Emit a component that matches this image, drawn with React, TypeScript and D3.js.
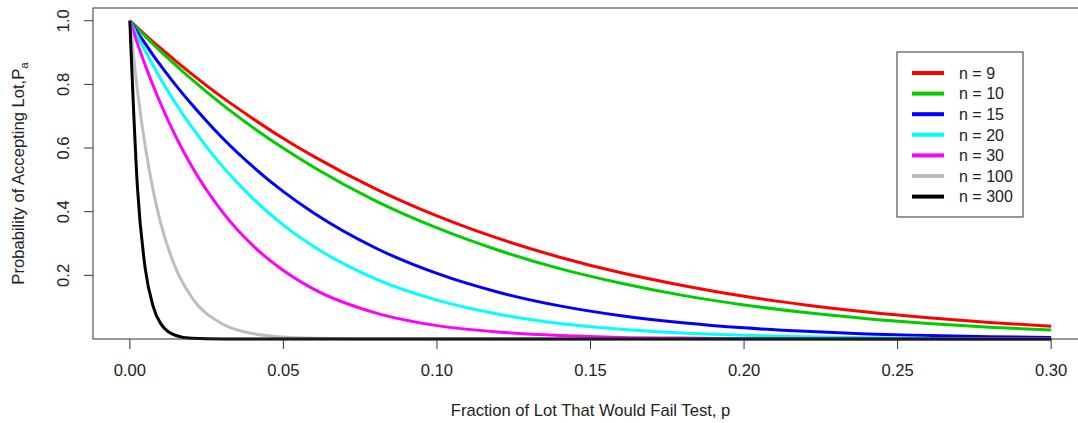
import { useEffect, useRef } from "react";
import * as d3 from "d3";

const WIDTH = 1078;
const HEIGHT = 423;
const MARGIN = { top: 8, right: -10, bottom: 84, left: 93 };

// fraction failing, p
const pValues = [0, 0.0025, 0.005, 0.0075, 0.01, 0.015, 0.02, 0.03, 0.04, 0.05, 0.06, 0.08, 0.1, 0.12, 0.14, 0.16, 0.18, 0.2, 0.22, 0.24, 0.26, 0.28, 0.3];

// probability of accepting lot
const pa9 = [1, 0.978, 0.956, 0.934, 0.914, 0.873, 0.834, 0.76, 0.693, 0.63, 0.573, 0.472, 0.387, 0.316, 0.257, 0.208, 0.168, 0.134, 0.107, 0.085, 0.067, 0.052, 0.04];
const pa10 = [1, 0.975, 0.951, 0.927, 0.904, 0.86, 0.817, 0.737, 0.665, 0.599, 0.539, 0.434, 0.349, 0.279, 0.221, 0.175, 0.137, 0.107, 0.083, 0.064, 0.049, 0.037, 0.028];
const pa15 = [1, 0.963, 0.928, 0.893, 0.86, 0.797, 0.739, 0.633, 0.542, 0.463, 0.395, 0.286, 0.206, 0.147, 0.104, 0.073, 0.051, 0.035, 0.024, 0.016, 0.011, 0.007, 0.005];
const pa20 = [1, 0.951, 0.905, 0.86, 0.818, 0.739, 0.668, 0.544, 0.442, 0.358, 0.29, 0.189, 0.122, 0.078, 0.049, 0.031, 0.019, 0.012, 0.007, 0.004, 0.002, 0.001, 0.001];
const pa30 = [1, 0.928, 0.86, 0.798, 0.74, 0.635, 0.545, 0.401, 0.294, 0.215, 0.156, 0.082, 0.042, 0.022, 0.011, 0.005, 0.003, 0.001, 0.001, 0, 0, 0, 0];
const pa100 = [1, 0.779, 0.606, 0.471, 0.366, 0.221, 0.133, 0.048, 0.017, 0.006, 0.002, 0, 0, 0, 0, 0, 0, 0, 0, 0, 0, 0, 0];
const pa300 = [1, 0.472, 0.222, 0.105, 0.049, 0.011, 0.002, 0, 0, 0, 0, 0, 0, 0, 0, 0, 0, 0, 0, 0, 0, 0, 0];

const seriesNames = ["n = 9", "n = 10", "n = 15", "n = 20", "n = 30", "n = 100", "n = 300"];
const seriesValues = [pa9, pa10, pa15, pa20, pa30, pa100, pa300];
const seriesColors = ["#ff0000", "#00cd00", "#0000ff", "#00ffff", "#ff00ff", "#bebebe", "#000000"];

const xTicks = [0, 0.05, 0.1, 0.15, 0.2, 0.25, 0.3];
const yTicks = [0.2, 0.4, 0.6, 0.8, 1.0];

const FONT = "Liberation Sans, Arial, sans-serif";

const App = () => {
  const axesRef = useRef<SVGGElement | null>(null);
  const boundsWidth = WIDTH - MARGIN.left - MARGIN.right;
  const boundsHeight = HEIGHT - MARGIN.top - MARGIN.bottom;

  const xScale = d3.scaleLinear().domain([-0.012, 0.312]).range([0, boundsWidth]);
  const yScale = d3.scaleLinear().domain([0, 1.04]).range([boundsHeight, 0]);

  useEffect(() => {
    document.body.style.margin = "0";
    const g = d3.select(axesRef.current);
    g.selectAll("*").remove();

    // x axis ticks + labels
    const xg = g.append("g").attr("transform", `translate(0,${boundsHeight})`);
    xg.selectAll("line")
      .data(xTicks)
      .enter()
      .append("line")
      .attr("x1", (d) => xScale(d))
      .attr("x2", (d) => xScale(d))
      .attr("y1", 0)
      .attr("y2", 10)
      .style("stroke", "#333")
      .style("stroke-width", 1);
    xg.selectAll("text")
      .data(xTicks)
      .enter()
      .append("text")
      .attr("x", (d) => xScale(d))
      .attr("y", 37)
      .attr("text-anchor", "middle")
      .style("font-family", FONT)
      .style("font-size", "16.6px")
      .style("fill", "#222")
      .text((d) => d3.format(".2f")(d));

    // y axis ticks + labels (rotated like base R)
    const yg = g.append("g");
    yg.selectAll("line")
      .data(yTicks)
      .enter()
      .append("line")
      .attr("x1", -9)
      .attr("x2", 0)
      .attr("y1", (d) => yScale(d))
      .attr("y2", (d) => yScale(d))
      .style("stroke", "#333")
      .style("stroke-width", 1);
    yg.selectAll("text")
      .data(yTicks)
      .enter()
      .append("text")
      .attr("transform", (d) => `translate(-30,${yScale(d)}) rotate(-90)`)
      .attr("dy", "0.36em")
      .attr("text-anchor", "middle")
      .style("font-family", FONT)
      .style("font-size", "16.6px")
      .style("fill", "#222")
      .text((d) => d3.format(".1f")(d));
  }, [boundsHeight]);

  const lineBuilder = d3
    .line<number>()
    .x((_, i) => xScale(pValues[i]))
    .y((d) => yScale(d))
    .curve(d3.curveMonotoneX);

  return (
    <svg width={WIDTH} height={HEIGHT} style={{ display: "block", background: "#fff" }}>
      <g transform={`translate(${MARGIN.left},${MARGIN.top})`}>
        {seriesValues.map((vals, i) => (
          <path
            key={seriesNames[i]}
            d={lineBuilder(vals) || ""}
            fill="none"
            stroke={seriesColors[i]}
            strokeWidth={3}
            strokeLinejoin="round"
          />
        ))}
        <rect
          x={0}
          y={0}
          width={boundsWidth}
          height={boundsHeight}
          fill="none"
          stroke="#333"
          strokeWidth={1}
        />
        <g ref={axesRef} />
      </g>

      {/* axis titles */}
      <text
        x={MARGIN.left + xScale(0.15)}
        y={416}
        textAnchor="middle"
        fontFamily={FONT}
        fontSize={16.6}
        fill="#222"
      >
        Fraction of Lot That Would Fail Test, p
      </text>
      <text
        transform={`translate(24,${MARGIN.top + boundsHeight / 2}) rotate(-90)`}
        textAnchor="middle"
        fontFamily={FONT}
        fontSize={16.6}
        fill="#222"
      >
        Probability of Accepting Lot,P
        <tspan fontSize={11.5} dy={4}>a</tspan>
      </text>

      {/* legend */}
      <g transform="translate(897,52)">
        <rect x={0} y={0} width={126} height={165} fill="#fff" stroke="#333" strokeWidth={1} />
        {seriesNames.map((name, i) => (
          <g key={name} transform={`translate(0,${21 + i * 20.6})`}>
            <line x1={15} x2={47} y1={0} y2={0} stroke={seriesColors[i]} strokeWidth={4} />
            <text x={62} y={0} dy="0.36em" fontFamily={FONT} fontSize={16} fill="#222">
              {name}
            </text>
          </g>
        ))}
      </g>
    </svg>
  );
};

export default App;
